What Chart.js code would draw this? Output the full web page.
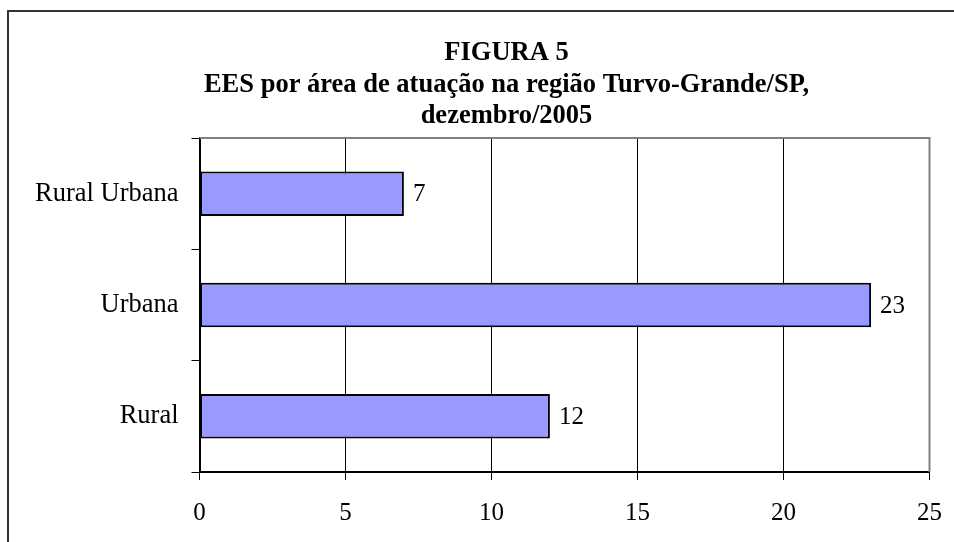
<!DOCTYPE html>
<html>
<head>
<meta charset="utf-8">
<script src="https://cdn.jsdelivr.net/npm/chart.js@4/dist/chart.umd.min.js"></script>
<style>
  html, body { margin: 0; padding: 0; background: #fff; overflow: hidden; }
  #wrap { position: relative; width: 954px; height: 542px; }
</style>
</head>
<body>
<div id="wrap"><canvas id="c" width="954" height="542"></canvas></div>
<script>
const titleLines = ['FIGURA 5', 'EES por área de atuação na região Turvo-Grande/SP,', 'dezembro/2005'];
const categories = ['Rural Urbana', 'Urbana', 'Rural'];
const values = [7, 23, 12];
const xTicks = [0, 5, 10, 15, 20, 25];

const FONT = "'Liberation Serif', 'Times New Roman', serif";

const framePlugin = {
  id: 'frame',
  afterLayout(chart) {
    const t = chart.titleBlock;
    if (t) {
      t.left = 83;
      t.right = 930;
      t.width = t.right - t.left;
    }
  },
  beforeDraw(chart) {
    const ctx = chart.ctx;
    ctx.save();
    ctx.fillStyle = '#fff';
    ctx.fillRect(0, 0, chart.width, chart.height);
    ctx.strokeStyle = '#333';
    ctx.lineWidth = 2;
    ctx.beginPath();
    ctx.moveTo(8, 560);
    ctx.lineTo(8, 11);
    ctx.lineTo(980, 11);
    ctx.stroke();
    ctx.restore();
  },
  beforeDatasetsDraw(chart) {
    const ctx = chart.ctx;
    const a = chart.chartArea;
    ctx.save();
    ctx.strokeStyle = '#808080';
    ctx.lineWidth = 2;
    ctx.beginPath();
    ctx.moveTo(a.left, a.top);
    ctx.lineTo(a.right, a.top);
    ctx.lineTo(a.right, a.bottom);
    ctx.stroke();
    ctx.restore();
  },
  afterDatasetsDraw(chart) {
    const ctx = chart.ctx;
    const meta = chart.getDatasetMeta(0);
    ctx.save();
    ctx.fillStyle = '#000';
    ctx.font = '25px ' + FONT;
    ctx.textAlign = 'left';
    ctx.textBaseline = 'middle';
    meta.data.forEach((bar, i) => {
      ctx.fillText(String(values[i]), bar.x + 9, bar.y + 1);
    });
    ctx.restore();
  }
};

new Chart(document.getElementById('c'), {
  type: 'bar',
  data: {
    labels: categories,
    datasets: [{
      data: values,
      backgroundColor: '#9999FF',
      borderColor: '#000',
      borderWidth: 2,
      borderSkipped: false,
      barPercentage: 0.4,
      categoryPercentage: 1.0
    }]
  },
  options: {
    indexAxis: 'y',
    responsive: false,
    animation: false,
    devicePixelRatio: 1,
    layout: { padding: { left: 0, right: 24.5, top: 0, bottom: 0 } },
    plugins: {
      legend: { display: false },
      tooltip: { enabled: false },
      title: {
        display: true,
        text: titleLines,
        color: '#000',
        font: { family: FONT, size: 26.5, weight: 'bold', lineHeight: 1.2 },
        padding: { top: 37, bottom: 5.6 }
      }
    },
    scales: {
      x: {
        type: 'linear',
        min: 0,
        max: 25,
        afterBuildTicks(scale) { scale.ticks = xTicks.map(v => ({ value: v })); },
        afterFit(scale) { scale.height = 70; scale.paddingLeft = 0; scale.paddingRight = 0; },
        grid: {
          color: (c) => (c.tick && (c.tick.value === 0 || c.tick.value === 25)) ? 'rgba(0,0,0,0)' : '#000',
          tickColor: '#000',
          lineWidth: 1,
          tickLength: 8
        },
        border: { display: true, color: '#000', width: 2 },
        ticks: {
          color: '#000',
          font: { family: FONT, size: 25 },
          padding: 18,
          maxRotation: 0
        }
      },
      y: {
        type: 'category',
        afterFit(scale) { scale.width = 199.5; },
        grid: {
          offset: true,
          drawOnChartArea: false,
          tickColor: '#000',
          tickLength: 8
        },
        border: { display: true, color: '#000', width: 2 },
        ticks: {
          color: '#000',
          font: { family: FONT, size: 26.5 },
          padding: 13
        }
      }
    }
  },
  plugins: [framePlugin]
});
</script>
</body>
</html>
